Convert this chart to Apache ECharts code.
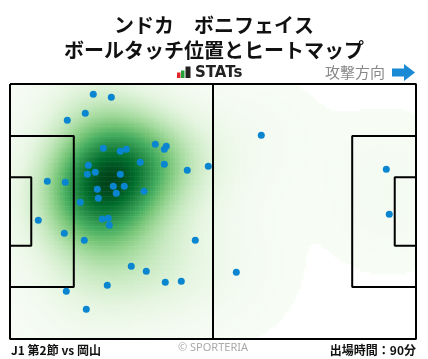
<!DOCTYPE html>
<html><head><meta charset="utf-8">
<script src="https://cdn.jsdelivr.net/npm/echarts/dist/echarts.min.js"></script>
<style>html,body{margin:0;padding:0;background:#fff}#c{width:428px;height:359px}</style>
</head><body><div id="c"></div>
<script>
// ---- data ----
const titleLines = ['ンドカ　ボニフェイス', 'ボールタッチ位置とヒートマップ'];
const footerLeft = 'J1 第2節 vs 岡山';
const footerRight = '出場時間：90分';
const credit = '© SPORTERIA';
const directionLabel = '攻撃方向';
// touch positions in metres (x: 0-105 own goal -> opponent goal, y: 0-68 from top touchline)
const touchX = [21.54, 26.20, 19.47, 14.82, 37.58, 40.42, 39.91, 24.13, 28.53, 30.08,
                33.70, 39.91, 45.85, 51.28, 20.25, 22.06, 19.99, 28.53, 9.65, 14.30,
                22.58, 26.72, 29.56, 27.49, 34.66, 22.84, 18.18, 23.87, 25.42, 25.68,
                7.32, 14.04, 19.22, 47.92, 31.37, 35.25, 40.16, 44.30, 25.16, 14.56,
                19.73, 64.99, 58.53, 97.32, 98.09];
const touchY = [2.75, 3.55, 7.81, 9.68, 16.08, 16.61, 17.41, 17.15, 17.95, 17.41,
                20.88, 21.41, 23.01, 21.95, 21.68, 23.55, 24.08, 24.08, 25.95, 26.21,
                28.08, 27.28, 27.28, 29.15, 28.61, 30.48, 31.55, 36.00, 35.81, 37.68,
                36.35, 39.81, 41.68, 41.68, 48.61, 49.95, 52.88, 52.61, 53.68, 55.28,
                60.08, 13.68, 50.21, 22.75, 34.75];
const pitchLength = 105, pitchWidth = 68;
const penaltyDepth = 16.5, penaltyWidth = 40.32, goalAreaDepth = 5.5, goalAreaWidth = 18.32;
const greens = ['#f7fcf5','#e5f5e0','#c7e9c0','#a1d99b','#74c476','#41ab5d','#238b45','#006d2c','#00441b'];

// ---- heat density from the touches ----
const nx = 162, ny = 102, bw = 10.5, thr = 0.33, gamma = 1.45;
const cw = pitchLength / nx, ch = pitchWidth / ny;
const xCats = [], yCats = [];
for (let i = 0; i < nx; i++) xCats.push(i);
for (let j = 0; j < ny; j++) yCats.push(j);
const raw = []; let maxD = 0;
for (let i = 0; i < nx; i++) {
  for (let j = 0; j < ny; j++) {
    const cx = (i + 0.5) * cw, cy = (j + 0.5) * ch;
    let d = 0;
    for (let k = 0; k < touchX.length; k++) {
      const ddx = cx - touchX[k], ddy = cy - touchY[k];
      d += Math.exp(-(ddx * ddx + ddy * ddy) / (2 * bw * bw));
    }
    if (d > maxD) maxD = d;
    if (d >= thr) raw.push([i, j, d]);
  }
}
const cells = raw.map(c => [c[0], c[1], Math.pow((c[2] - thr) / (maxD - thr), gamma)]);

// ---- pitch markings ----
const L = pitchLength, W = pitchWidth;
const py1 = (W - penaltyWidth) / 2, py2 = (W + penaltyWidth) / 2;
const gy1 = (W - goalAreaWidth) / 2, gy2 = (W + goalAreaWidth) / 2;
const shapes = [
  [[0,0],[L,0],[L,W],[0,W],[0,0]],
  [[L/2,0],[L/2,W]],
  [[0,py1],[penaltyDepth,py1],[penaltyDepth,py2],[0,py2]],
  [[0,gy1],[goalAreaDepth,gy1],[goalAreaDepth,gy2],[0,gy2]],
  [[L,py1],[L-penaltyDepth,py1],[L-penaltyDepth,py2],[L,py2]],
  [[L,gy1],[L-goalAreaDepth,gy1],[L-goalAreaDepth,gy2],[L,gy2]]
];
const lineSeries = shapes.map(s => ({
  type: 'line', xAxisIndex: 1, yAxisIndex: 1, data: s, symbol: 'none', silent: true,
  clip: false, z: 5, lineStyle: { color: '#000', width: 2 }, animation: false
}));

const chart = echarts.init(document.getElementById('c'), null, { renderer: 'canvas' });
const gridPos = { left: 10, top: 84, width: 406, height: 255 };
const jp = '"Noto Sans CJK JP", "Noto Sans", sans-serif';
chart.setOption({
  animation: false,
  backgroundColor: '#fff',
  title: {
    text: titleLines.join('\n'), left: 'center', top: 8,
    textStyle: { fontSize: 20, fontWeight: 'bold', lineHeight: 25, color: '#111', fontFamily: jp }
  },
  grid: [Object.assign({}, gridPos), Object.assign({}, gridPos)],
  xAxis: [
    { type: 'category', gridIndex: 0, data: xCats, show: false },
    { type: 'value', gridIndex: 1, min: 0, max: pitchLength, show: false }
  ],
  yAxis: [
    { type: 'category', gridIndex: 0, data: yCats, show: false, inverse: true },
    { type: 'value', gridIndex: 1, min: 0, max: pitchWidth, show: false, inverse: true }
  ],
  visualMap: {
    show: false, seriesIndex: 0, dimension: 2, min: 0, max: 1,
    inRange: { color: greens }
  },
  series: [
    { type: 'heatmap', xAxisIndex: 0, yAxisIndex: 0, data: cells, progressive: 0,
      silent: true, z: 1, emphasis: { disabled: true } },
    ...lineSeries,
    { type: 'scatter', xAxisIndex: 1, yAxisIndex: 1, z: 6, silent: true,
      data: touchX.map((x, i) => [x, touchY[i]]), symbolSize: 7,
      itemStyle: { color: '#0a86d0', opacity: 1 } }
  ],
  graphic: [
    { type: 'rect', shape: { x: 177, y: 72.5, width: 3.5, height: 5.5 }, style: { fill: '#e0262b' } },
    { type: 'rect', shape: { x: 181, y: 70.5, width: 3.5, height: 7.5 }, style: { fill: '#22a33a' } },
    { type: 'rect', shape: { x: 185.5, y: 66.5, width: 5, height: 11.5 }, style: { fill: '#222' } },
    { type: 'text', x: 195, y: 73, style: { text: 'STATs', font: 'bold 15px "DejaVu Sans", sans-serif', fill: '#222', textVerticalAlign: 'middle' } },
    { type: 'text', x: 385, y: 72.5, style: { text: directionLabel, font: '15px ' + jp, fill: '#888', textAlign: 'right', textVerticalAlign: 'middle' } },
    { type: 'polygon', shape: { points: [[392,68.5],[404,68.5],[404,64],[415,72.5],[404,81],[404,76.5],[392,76.5]] }, style: { fill: '#1a8ad4' } },
    { type: 'text', x: 11, y: 350, style: { text: footerLeft, font: 'bold 12px ' + jp, fill: '#111', textVerticalAlign: 'middle' } },
    { type: 'text', x: 213, y: 348, style: { text: credit, font: '11px "Noto Sans", sans-serif', fill: '#aaa', textAlign: 'center', textVerticalAlign: 'middle' } },
    { type: 'text', x: 416, y: 350, style: { text: footerRight, font: 'bold 12px ' + jp, fill: '#111', textAlign: 'right', textVerticalAlign: 'middle' } }
  ]
});
</script>
</body></html>
